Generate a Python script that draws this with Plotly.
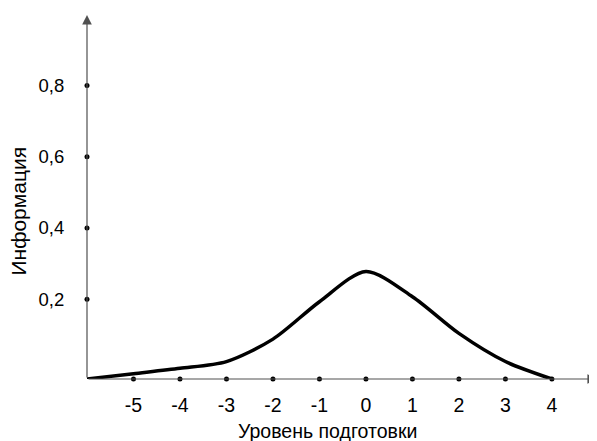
import plotly.graph_objects as go

# information curve, read at integer levels
level = [-6, -5, -4, -3, -2, -1, 0, 1, 2, 3, 4]
info = [-0.024, -0.009, 0.006, 0.025, 0.088, 0.193, 0.278, 0.207, 0.104, 0.025, -0.024]

x_ticks = [-5, -4, -3, -2, -1, 0, 1, 2, 3, 4]
x_tick_labels = ["-5", "-4", "-3", "-2", "-1", "0", "1", "2", "3", "4"]
y_ticks = [0.2, 0.4, 0.6, 0.8]
y_tick_labels = ["0,2", "0,4", "0,6", "0,8"]

x_range = [-6.0, 4.97]
y_range = [-0.024, 0.998]
axis_y = y_range[0]  # where the horizontal axis sits
axis_x = x_range[0]  # where the vertical axis sits

FONT = "Liberation Sans, Arial, sans-serif"

fig = go.Figure()

fig.add_trace(go.Scatter(
    x=level, y=info, mode="lines",
    line=dict(color="black", width=3.5, shape="spline", smoothing=0.8),
    cliponaxis=False, showlegend=False, hoverinfo="skip"))

# tick dots on both axes
fig.add_trace(go.Scatter(
    x=x_ticks, y=[axis_y] * len(x_ticks), mode="markers",
    marker=dict(color="black", size=5), cliponaxis=False, showlegend=False))
fig.add_trace(go.Scatter(
    x=[axis_x] * len(y_ticks), y=y_ticks, mode="markers",
    marker=dict(color="black", size=5), cliponaxis=False, showlegend=False))

# axis lines with arrow heads
arrow = dict(showarrow=True, text="", arrowhead=2, arrowsize=1.6, arrowwidth=1.2,
             arrowcolor="#505050", axref="x", ayref="y", xref="x", yref="y", standoff=0)
fig.add_annotation(x=x_range[1], y=axis_y, ax=axis_x, ay=axis_y, **arrow)
fig.add_annotation(x=axis_x, y=y_range[1], ax=axis_x, ay=axis_y, **arrow)

# axis titles
fig.add_annotation(text="Уровень подготовки", xref="paper", yref="paper",
                   x=0.4725, y=0, yanchor="top", yshift=-39, showarrow=False,
                   font=dict(size=19.5, color="black", family=FONT))
fig.add_annotation(text="Информация", xref="paper", yref="paper",
                   x=0, y=0.46, xanchor="center", xshift=-68, textangle=-90,
                   showarrow=False, font=dict(size=21, color="black", family=FONT))

fig.update_xaxes(range=x_range, tickvals=x_ticks, ticktext=x_tick_labels,
                 ticks="outside", ticklen=9, tickcolor="rgba(0,0,0,0)",
                 showgrid=False, zeroline=False, showline=False, automargin=False,
                 tickfont=dict(size=19.5, color="black", family=FONT))
fig.update_yaxes(range=y_range, tickvals=y_ticks, ticktext=y_tick_labels,
                 ticks="outside", ticklen=18, tickcolor="rgba(0,0,0,0)",
                 showgrid=False, zeroline=False, showline=False, automargin=False,
                 tickfont=dict(size=18.5, color="black", family=FONT))

# the page body adds an 8px offset, so margins are shifted to compensate
fig.update_layout(width=597, height=441, margin=dict(l=79, r=8, t=7, b=70),
                  paper_bgcolor="white", plot_bgcolor="white",
                  font=dict(family=FONT, color="black"))

fig.write_html("out.html")
